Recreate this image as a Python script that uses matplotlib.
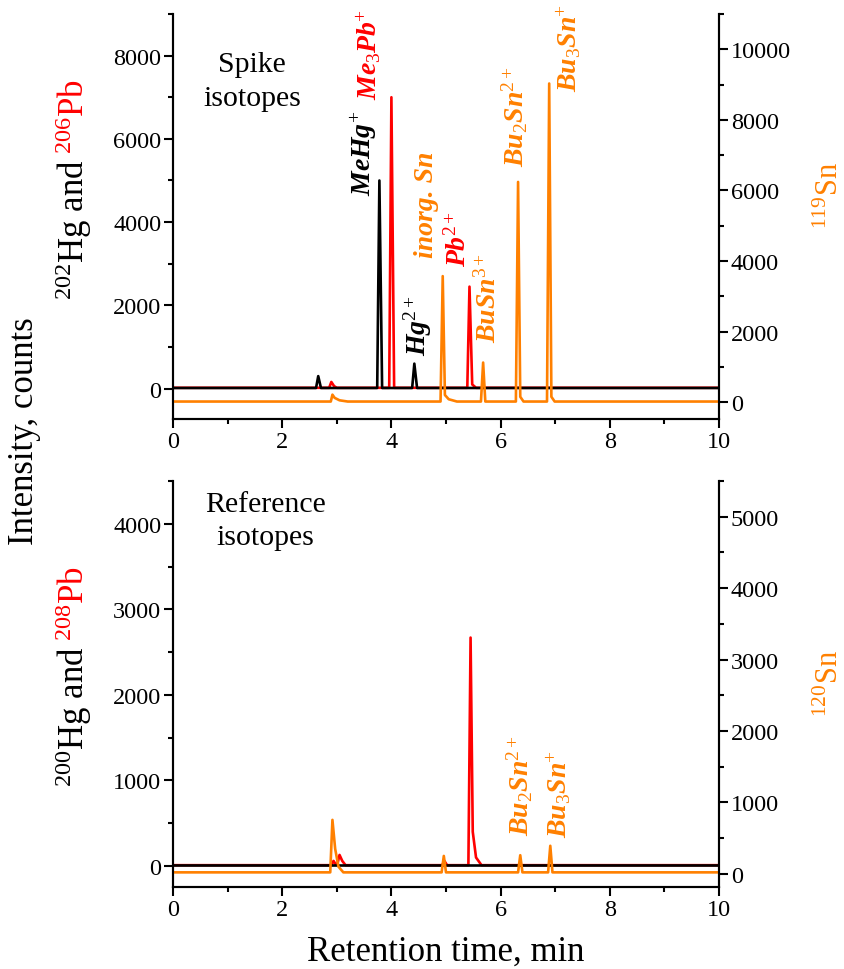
import matplotlib
matplotlib.use("Agg")
import matplotlib.pyplot as plt
from matplotlib.ticker import MultipleLocator

plt.rcParams['font.family'] = 'Liberation Serif'
plt.rcParams['mathtext.fontset'] = 'custom'
plt.rcParams['mathtext.rm'] = 'Liberation Serif'
plt.rcParams['mathtext.it'] = 'Liberation Serif:italic'
plt.rcParams['mathtext.bf'] = 'Liberation Serif:bold'
plt.rcParams['mathtext.bfit'] = 'Liberation Serif:italic:bold'
plt.rcParams['mathtext.default'] = 'regular'

RED = '#FF0000'
ORANGE = '#FF8000'

# spike isotopes (top)
hg202_t = [0.0, 2.62, 2.66, 2.71, 3.74, 3.78, 3.83, 4.38, 4.42, 4.47, 10.0]
hg202_c = [15, 15, 300, 15, 15, 5000, 15, 15, 600, 15, 15]

pb206_t = [0.0, 2.86, 2.90, 2.95, 3.00, 3.96, 4.00, 4.05, 5.39, 5.43, 5.48, 5.55, 10.0]
pb206_c = [20, 20, 160, 60, 20, 20, 7000, 20, 20, 2450, 100, 20, 20]

sn119_t = [0.0, 2.89, 2.92, 2.96, 3.05, 3.20, 4.90, 4.94, 4.98, 5.05, 5.20,
           5.64, 5.68, 5.72, 6.28, 6.32, 6.36, 6.42, 6.85, 6.89, 6.93, 6.99, 10.0]
sn119_c = [15, 15, 210, 120, 50, 15, 15, 3570, 200, 80, 15,
           15, 1120, 15, 15, 6240, 150, 15, 15, 9030, 150, 15, 15]

# reference isotopes (bottom)
hg200_t = [0.0, 10.0]
hg200_c = [10, 10]

pb208_t = [0.0, 2.90, 2.94, 2.98, 3.01, 3.05, 3.10, 3.16, 4.93, 4.97, 5.02,
           5.41, 5.45, 5.49, 5.55, 5.65, 10.0]
pb208_c = [10, 10, 60, 20, 20, 130, 60, 10, 10, 60, 10,
           10, 2670, 400, 100, 10, 10]

sn120_t = [0.0, 2.88, 2.92, 2.97, 3.03, 3.12, 4.92, 4.96, 5.00,
           6.32, 6.36, 6.40, 6.87, 6.91, 6.95, 10.0]
sn120_c = [20, 20, 755, 350, 100, 20, 20, 250, 20,
           20, 260, 20, 20, 392, 20, 20]

fig = plt.figure(figsize=(8.45, 9.7), dpi=100)
ax1 = fig.add_axes([173/845, 1-420/970, 546/845, 405/970])
ax3 = fig.add_axes([173/845, 1-888/970, 546/845, 406/970])
ax2 = ax1.twinx()
ax4 = ax3.twinx()

lw = 1.9
ax1.plot(pb206_t, pb206_c, color=RED, lw=lw)
ax1.plot(hg202_t, hg202_c, color='black', lw=lw)
ax2.plot(sn119_t, sn119_c, color=ORANGE, lw=lw)

ax3.plot(pb208_t, pb208_c, color=RED, lw=lw)
ax3.plot(hg200_t, hg200_c, color='black', lw=lw)
ax4.plot(sn120_t, sn120_c, color=ORANGE, lw=lw)

ax1.set_ylim(-730, 9000)
ax2.set_ylim(-480, 11000)
ax3.set_ylim(-245, 4500)
ax4.set_ylim(-185, 5500)

for ax in (ax1, ax3):
    ax.set_xlim(0, 10)
    ax.xaxis.set_major_locator(MultipleLocator(2))
    ax.xaxis.set_minor_locator(MultipleLocator(1))
ax1.yaxis.set_major_locator(MultipleLocator(2000))
ax1.yaxis.set_minor_locator(MultipleLocator(1000))
ax2.yaxis.set_major_locator(MultipleLocator(2000))
ax2.yaxis.set_minor_locator(MultipleLocator(1000))
for ax in (ax3, ax4):
    ax.yaxis.set_major_locator(MultipleLocator(1000))
    ax.yaxis.set_minor_locator(MultipleLocator(500))

for ax in (ax1, ax2, ax3, ax4):
    ax.spines['top'].set_visible(False)
    for s in ax.spines.values():
        s.set_linewidth(1.5)
    ax.tick_params(which='major', direction='out', length=6.5, width=1.5,
                   labelsize=17.5, pad=2)
    ax.tick_params(which='minor', direction='out', length=3.5, width=1.5)

# peak labels
def peak_label(ax, t, y, s, color):
    return ax.text(t, y, s, color=color, fontsize=20, rotation=90,
                   rotation_mode='anchor', ha='left', va='baseline')

peak_label(ax1, 3.62, 4640, r'$\mathbfit{MeHg}^{+}$', 'black')
peak_label(ax1, 3.74, 6950, r'$\mathbfit{Me}_{\mathit{3}}\mathbfit{Pb}^{+}$', RED)
peak_label(ax1, 4.62, 810, r'$\mathbfit{Hg}^{2+}$', 'black')
sn_label = peak_label(ax2, 4.77, 4100, 'inorg. Sn', ORANGE)
sn_label.set_fontweight('bold')
sn_label.set_fontstyle('italic')
peak_label(ax1, 5.36, 2950, r'$\mathbfit{Pb}^{2+}$', RED)
peak_label(ax2, 5.90, 1700, r'$\mathbfit{BuSn}^{3+}$', ORANGE)
peak_label(ax2, 6.43, 6690, r'$\mathbfit{Bu}_{\mathit{2}}\mathbfit{Sn}^{2+}$', ORANGE)
peak_label(ax2, 7.40, 8810, r'$\mathbfit{Bu}_{\mathit{3}}\mathbfit{Sn}^{+}$', ORANGE)
peak_label(ax4, 6.52, 540, r'$\mathbfit{Bu}_{\mathit{2}}\mathbfit{Sn}^{2+}$', ORANGE)
peak_label(ax4, 7.22, 520, r'$\mathbfit{Bu}_{\mathit{3}}\mathbfit{Sn}^{+}$', ORANGE)

ax1.text(1.45, 7400, 'Spike\nisotopes', fontsize=21.5, ha='center', va='center',
         linespacing=1.4)
ax3.text(1.69, 4040, 'Reference\nisotopes', fontsize=21.5, ha='center', va='center',
         linespacing=1.35)

# axis titles
renderer = fig.canvas.get_renderer()

def stacked_label(x, y, parts, size, gap=0.0):
    for s, color in parts:
        txt = fig.text(x, y, s, color=color, fontsize=size, rotation=90,
                       rotation_mode='anchor', ha='left', va='baseline')
        y += txt.get_window_extent(renderer).height / fig.bbox.height + gap

stacked_label(84/845, 1-300/970, [(r'$^{202}$Hg and', 'black'), (r'$^{206}$Pb', RED)],
              25, gap=5/970)
stacked_label(84/845, 1-787/970, [(r'$^{200}$Hg and', 'black'), (r'$^{208}$Pb', RED)],
              25, gap=5/970)
stacked_label(838/845, 1-229/970, [(r'$^{119}$Sn', ORANGE)], 22)
stacked_label(838/845, 1-717/970, [(r'$^{120}$Sn', ORANGE)], 22)

fig.text(25/845, 1-431/970, 'Intensity, counts', fontsize=25, rotation=90,
         ha='center', va='center')
fig.text(446/845, 1-952/970, 'Retention time, min', fontsize=25,
         ha='center', va='center')

fig.savefig('out.png', dpi=100)
